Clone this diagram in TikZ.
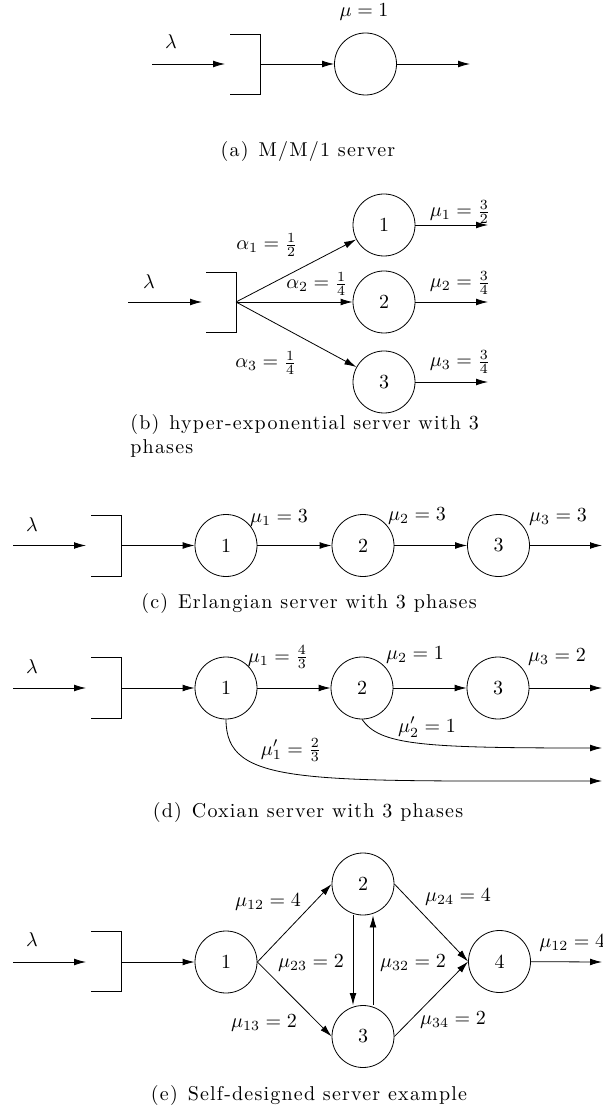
\documentclass[tikz,border=0pt]{standalone}
\usepackage{amsmath}
\usepackage{fontspec}
\usetikzlibrary{arrows.meta}
\newcommand{\capspaced}{\fontspec{Latin Modern Roman}[LetterSpace=6.0]}
\tikzset{
  srv/.style={draw, circle, minimum size=31pt, inner sep=0pt},
  flow/.style={-{Latex[length=6pt,width=3.4pt]}},
  rate/.style={inner sep=1pt},
  subcap/.style={font=\capspaced},
}

\begin{document}
\begin{tikzpicture}[x=0.5pt,y=-0.5pt]
	\useasboundingbox (0,0) rectangle (602,1111);
	% (a) M/M/1
	\draw (230,34) -- (260,34) -- (260,94) -- (230,94);
	\coordinate (qa) at (260,64);
	\coordinate (ina) at (152,64);
	\coordinate (ta) at (225,64);
	\coordinate (outa) at (470,64);
	\node[srv] (sa) at (365.5,64) {};
	\node (lama) at (171,42) {$\lambda$};
	\node[rate] (mua) at (364,12) {$\mu=1$};
	\draw[flow] (ina) -- (ta);
	\draw[flow] (qa) -- (sa);
	\draw[flow] (sa) -- (outa);
	\node[subcap] (capa) at (308,152) {(a)\enspace M/M/1 server};
	% (b) hyper-exponential
	\draw (206,272) -- (236,272) -- (236,332) -- (206,332);
	\coordinate (qb) at (236,302);
	\coordinate (inb) at (128,302);
	\coordinate (tb) at (202,302);
	\node (lamb) at (149,282) {$\lambda$};
	\node[srv] (b1) at (384,225) {1};
	\node[srv] (b2) at (384,302) {2};
	\node[srv] (b3) at (384,382) {3};
	\coordinate (ob1) at (488,225);
	\coordinate (ob2) at (488,302);
	\coordinate (ob3) at (488,382);
	\draw[flow] (inb) -- (tb);
	\draw[flow] (qb) -- (b1);
	\draw[flow] (qb) -- (b2);
	\draw[flow] (qb) -- (b3);
	\draw[flow] (b1) -- (ob1);
	\draw[flow] (b2) -- (ob2);
	\draw[flow] (b3) -- (ob3);
	\node[rate] (ab1) at (267,245) {$\alpha_1=\frac{1}{2}$};
	\node[rate] (ab2) at (317,284) {$\alpha_2=\frac{1}{4}$};
	\node[rate] (ab3) at (266,363) {$\alpha_3=\frac{1}{4}$};
	\node[rate] (mb1) at (460,212) {$\mu_1=\frac{3}{2}$};
	\node[rate] (mb2) at (460,283) {$\mu_2=\frac{3}{4}$};
	\node[rate] (mb3) at (460,362) {$\mu_3=\frac{3}{4}$};
	\node[subcap, anchor=north west, inner sep=0pt, align=left] (capb) at (130,414)
		{(b)\enspace hyper-exponential server with 3\\phases};
	% (c) Erlangian
	\draw (91,515) -- (121,515) -- (121,576) -- (91,576);
	\coordinate (qc) at (121,545.5);
	\coordinate (inc) at (13,545.5);
	\coordinate (tc) at (86,545.5);
	\coordinate (oc) at (602,545.5);
	\node (lamc) at (32,525) {$\lambda$};
	\node[srv] (c1) at (226,545.5) {1};
	\node[srv] (c2) at (363,545.5) {2};
	\node[srv] (c3) at (498.5,545.5) {3};
	\draw[flow] (inc) -- (tc);
	\draw[flow] (qc) -- (c1);
	\draw[flow] (c1) -- (c2);
	\draw[flow] (c2) -- (c3);
	\draw[flow] (c3) -- (oc);
	\node[rate] (mc1) at (279,518) {$\mu_1=3$};
	\node[rate] (mc2) at (417,516) {$\mu_2=3$};
	\node[rate] (mc3) at (558,517) {$\mu_3=3$};
	\node[subcap] (capc) at (309,603) {(c)\enspace Erlangian server with 3 phases};
	% (d) Coxian
	\draw (91,657) -- (121,657) -- (121,718) -- (91,718);
	\coordinate (qd) at (121,688);
	\coordinate (ind) at (13,688);
	\coordinate (td) at (86,688);
	\coordinate (od) at (602,688);
	\coordinate (od1) at (602,781);
	\coordinate (od2) at (602,748);
	\node (lamd) at (32,667) {$\lambda$};
	\node[srv] (d1) at (226,688) {1};
	\node[srv] (d2) at (362,688) {2};
	\node[srv] (d3) at (498,688) {3};
	\draw[flow] (ind) -- (td);
	\draw[flow] (qd) -- (d1);
	\draw[flow] (d1) -- (d2);
	\draw[flow] (d2) -- (d3);
	\draw[flow] (d3) -- (od);
	\draw[flow] (d1.south) .. controls (226,785) and (300,781) .. (od1);
	\draw[flow] (d2.south) .. controls (380,745) and (420,748) .. (od2);
	\node[rate] (md1) at (278,657) {$\mu_1=\frac{4}{3}$};
	\node[rate] (md2) at (415,655) {$\mu_2=1$};
	\node[rate] (md3) at (557,657) {$\mu_3=2$};
	\node[rate] (nd2) at (427,727) {$\mu_2'=1$};
	\node[rate] (nd1) at (291,750) {$\mu_1'=\frac{2}{3}$};
	\node[subcap] (capd) at (308,812) {(d)\enspace Coxian server with 3 phases};
	% (e) self-designed
	\draw (91,931) -- (121,931) -- (121,991) -- (91,991);
	\coordinate (qe) at (121,962);
	\coordinate (ine) at (13,962);
	\coordinate (te) at (86,962);
	\coordinate (oe) at (602,962);
	\node (lame) at (32,940) {$\lambda$};
	\node[srv] (e1) at (226,962) {1};
	\node[srv] (e2) at (363,884) {2};
	\node[srv] (e3) at (363,1036.5) {3};
	\node[srv] (e4) at (499.5,961.5) {4};
	\draw[flow] (ine) -- (te);
	\draw[flow] (qe) -- (e1);
	\draw[flow] (e1.east) -- (e2.west);
	\draw[flow] (e1.east) -- (e3.west);
	\draw[flow] (e2.east) -- (e4.west);
	\draw[flow] (e3.east) -- (e4.west);
	\draw[flow] ([xshift=-5pt]e2.south) -- ([xshift=-5pt]e3.north);
	\draw[flow] ([xshift=5pt]e3.north) -- ([xshift=5pt]e2.south);
	\draw[flow] (e4) -- (oe);
	\node[rate] (me12) at (268,902) {$\mu_{12}=4$};
	\node[rate] (me13) at (264,1023) {$\mu_{13}=2$};
	\node[rate] (me23) at (311,963) {$\mu_{23}=2$};
	\node[rate] (me32) at (413,963) {$\mu_{32}=2$};
	\node[rate] (me24) at (458,897) {$\mu_{24}=4$};
	\node[rate] (me34) at (453,1020) {$\mu_{34}=2$};
	\node[rate, anchor=west] (meo) at (537,943) {$\mu_{12}=4$};
	\node[subcap] (cape) at (309,1095) {(e)\enspace Self-designed server example};
\end{tikzpicture}
\end{document}
